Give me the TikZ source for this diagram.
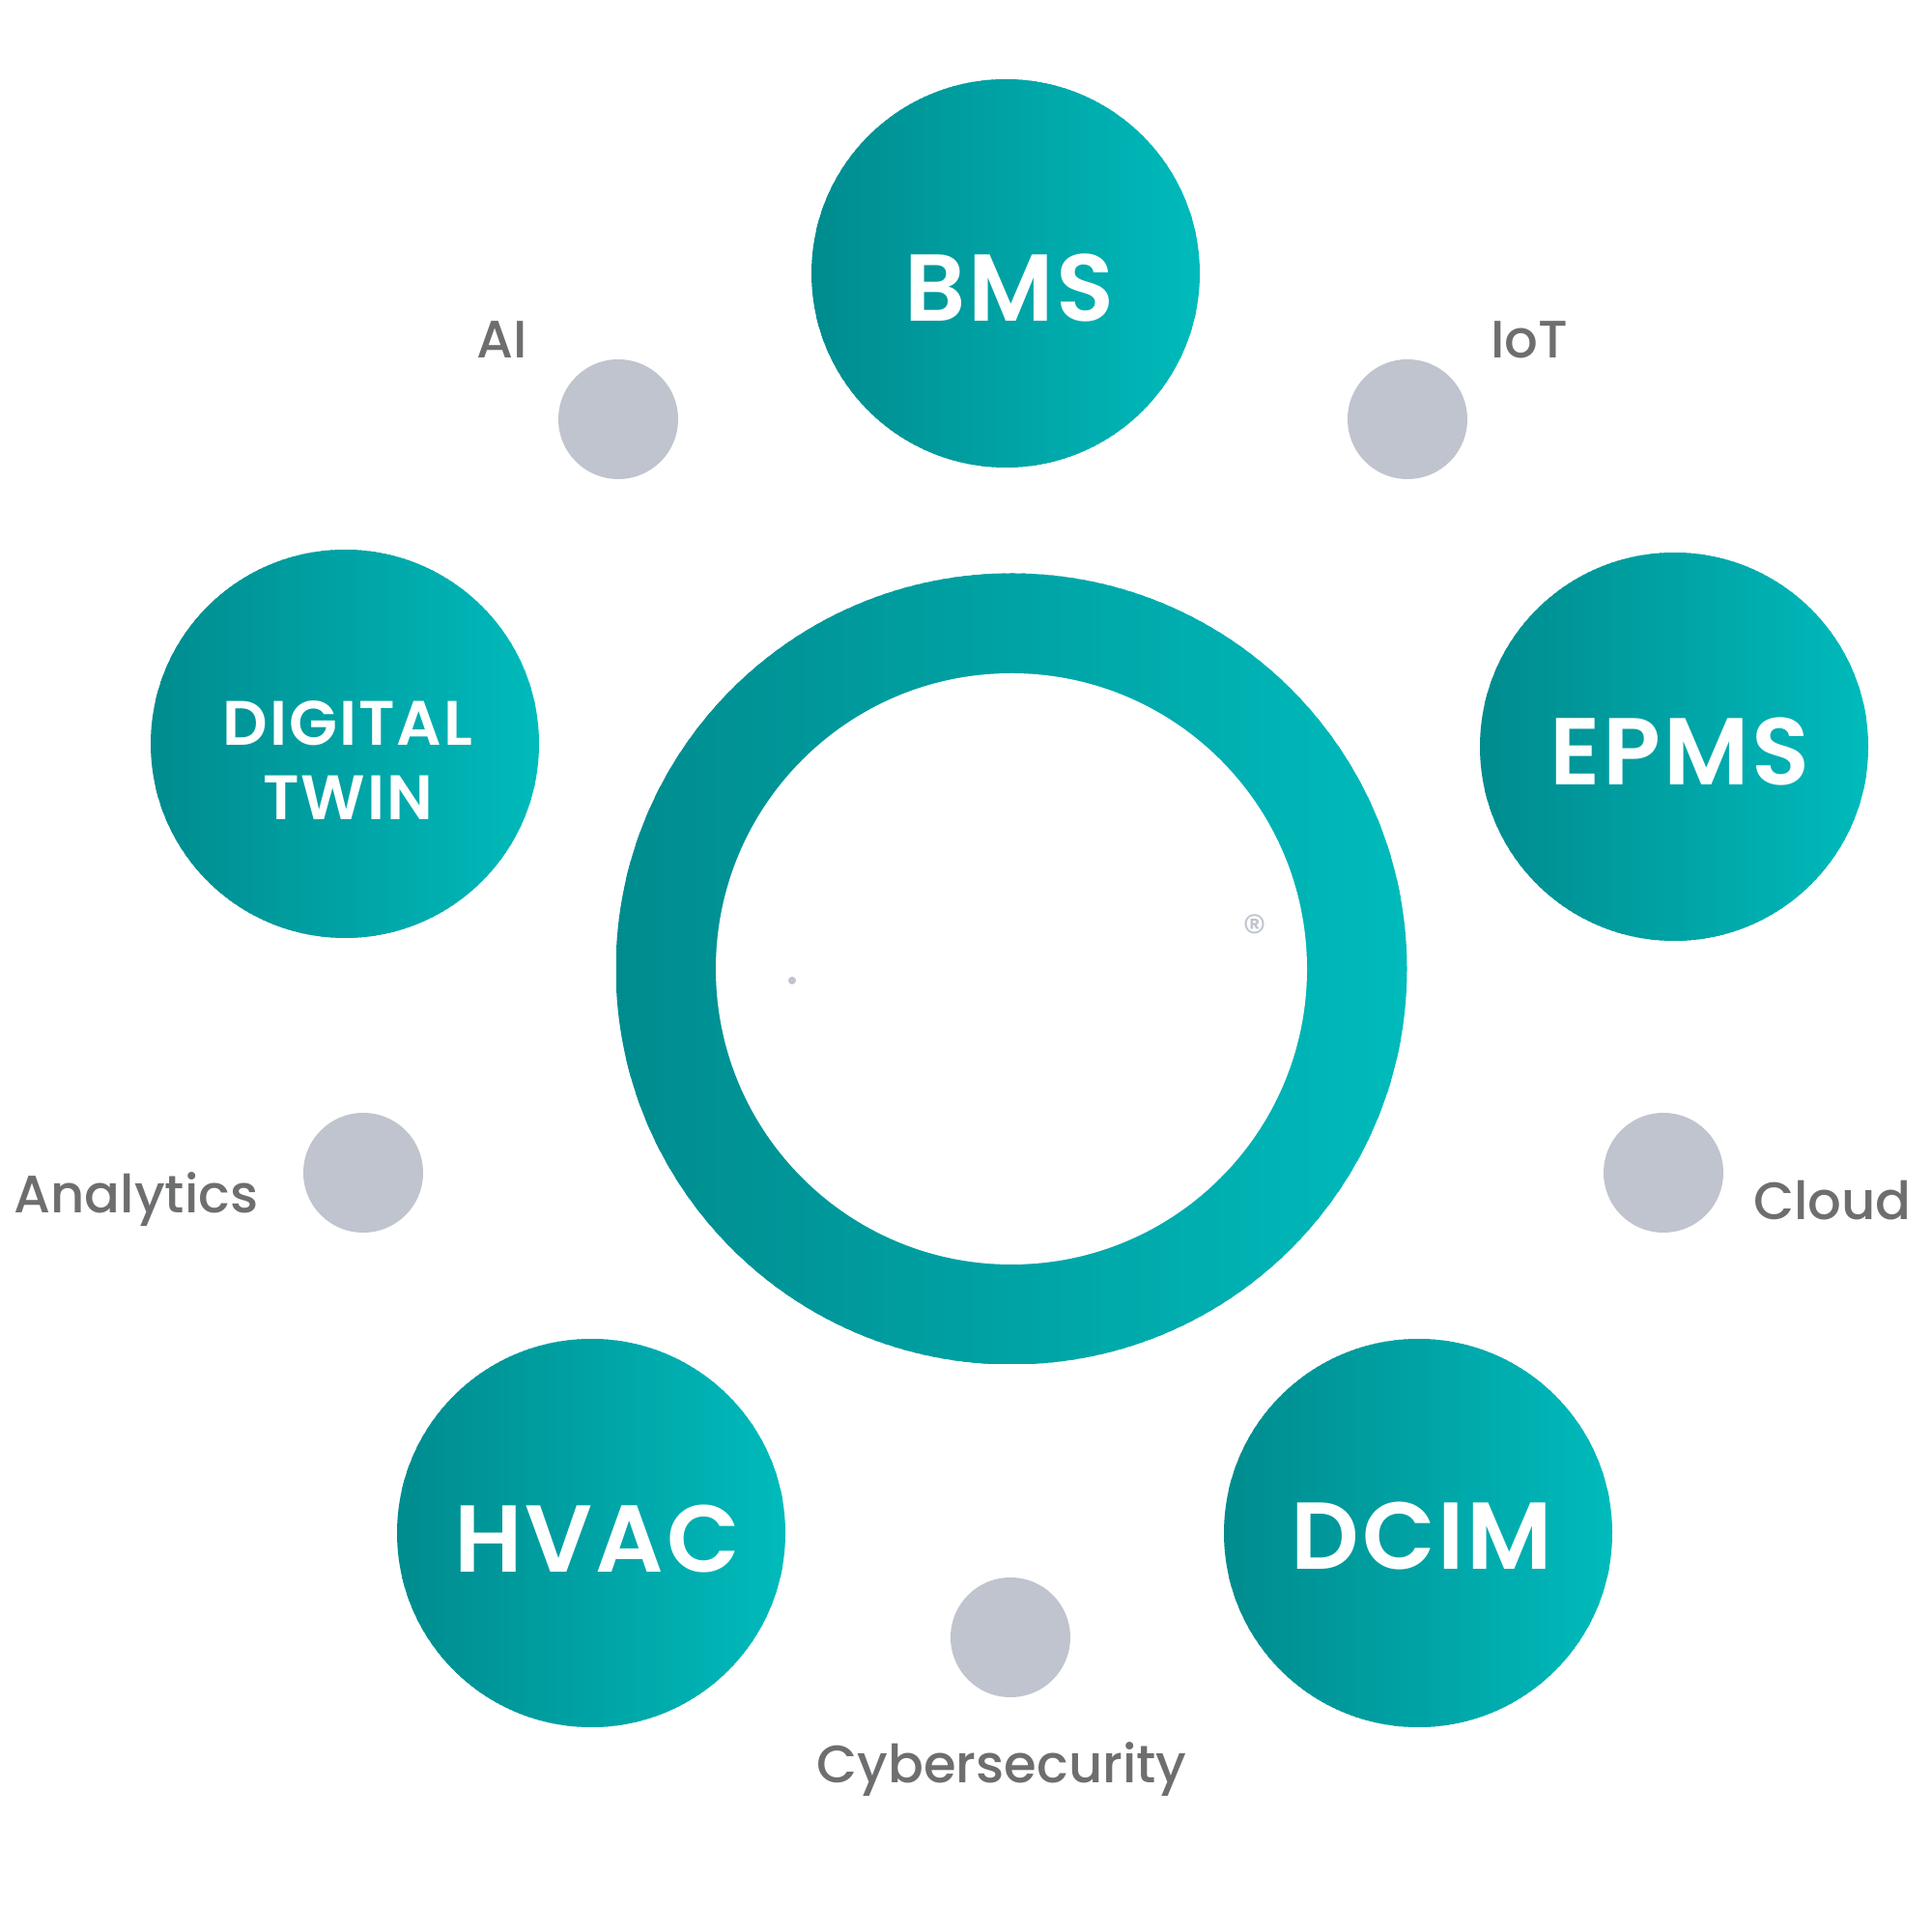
\documentclass[tikz,border=0pt]{standalone}
\usepackage{fontspec}
\setmainfont{Poppins}
\newfontfamily\topicfont{Poppins SemiBold}[LetterSpace=3]
\newfontfamily\tagfont{Poppins Medium}
\usetikzlibrary{positioning,calc}
\definecolor{tealdark}{RGB}{0,140,143}
\definecolor{teallight}{RGB}{0,186,187}
\definecolor{dotgrey}{RGB}{191,196,206}
\definecolor{labelgrey}{RGB}{109,110,112}

\begin{document}
\begin{tikzpicture}[
  tealgrad/.style={path picture={
    \foreach \k in {0,...,79}{
      \pgfmathtruncatemacro\mix{\k*100/79}
      \fill[teallight!\mix!tealdark]
        ($(path picture bounding box.south west)!{\k/80}!(path picture bounding box.south east)$)
        rectangle
        ($(path picture bounding box.north west)!{(\k+1.5)/80}!(path picture bounding box.north east)$);
    }}},
  topic/.style={circle, minimum size=4.02cm, inner sep=0pt, tealgrad},
  caption/.style={text=white, align=center, font=\topicfont\fontsize{28}{32}\selectfont},
  spot/.style={circle, fill=dotgrey, minimum size=1.24cm, inner sep=0pt},
  tag/.style={anchor=base, text=labelgrey, font=\tagfont\fontsize{15.5}{18}\selectfont}]
  \useasboundingbox (0,0) rectangle (20,20);

  % hub ring
  \node[circle, minimum size=8.19cm, inner sep=0pt, tealgrad] (hub) at (10.47,9.97) {};
  \node[circle, minimum size=6.12cm, inner sep=0pt, fill=white] (hubinner) at (hub.center) {};
  \node[text=dotgrey, font=\fontsize{14}{15}\selectfont] (reg) at (12.99,10.36) {®};
  \fill[dotgrey] (8.20,9.85) circle (0.04);

  % topic circles
  \node[topic] (bms) at (10.41,17.17) {};
  \node[topic] (twin) at (3.57,12.30) {};
  \node[topic] (epms) at (17.33,12.27) {};
  \node[topic] (hvac) at (6.12,4.13) {};
  \node[topic] (dcim) at (14.68,4.13) {};
  \node[caption] at ([xshift=0.04cm, yshift=-0.15cm]bms.center) {BMS};
  \node[caption, font=\topicfont\fontsize{18.5}{22}\selectfont] at ([xshift=0.03cm, yshift=-0.17cm]twin.center) {DIGITAL\\TWIN};
  \node[caption] at ([xshift=0.06cm, yshift=-0.05cm]epms.center) {EPMS};
  \node[caption] at ([xshift=0.06cm, yshift=-0.06cm]hvac.center) {HVAC};
  \node[caption] at ([xshift=0.04cm, yshift=-0.03cm]dcim.center) {DCIM};

  % grey dots
  \node[spot] (ai) at (6.40,15.66) {};
  \node[spot] (iot) at (14.57,15.66) {};
  \node[spot] (analytics) at (3.76,7.86) {};
  \node[spot] (cloud) at (17.22,7.86) {};
  \node[spot] (cyber) at (10.46,3.05) {};

  % labels
  \node[tag] (ailabel) at (5.20,16.29) {AI};
  \node[tag] (iotlabel) at (15.83,16.29) {IoT};
  \node[tag] (analyticslabel) at (1.41,7.44) {Analytics};
  \node[tag] (cloudlabel) at (18.97,7.37) {Cloud};
  \node[tag] (cyberlabel) at (10.37,1.54) {Cybersecurity};
\end{tikzpicture}
\end{document}
